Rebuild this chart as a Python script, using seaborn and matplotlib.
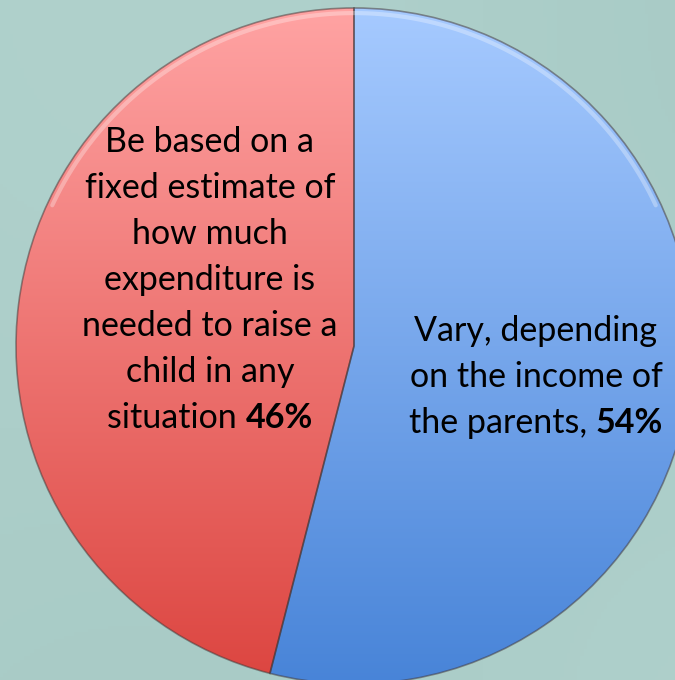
import numpy as np
import matplotlib
matplotlib.use("Agg")
import matplotlib.pyplot as plt
from matplotlib.colors import LinearSegmentedColormap
from matplotlib.offsetbox import TextArea, HPacker, VPacker, AnnotationBbox
import seaborn as sns

# Survey answers: how child support should be calculated
answers = [
    "Vary, depending\non the income of\nthe parents,",
    "Be based on a\nfixed estimate of\nhow much\nexpenditure is\nneeded to raise a\nchild in any\nsituation",
]
shares = [54, 46]
top_colors = ["#a6caff", "#ffa3a3"]
bottom_colors = ["#4884d8", "#dc4540"]

sns.set_theme(style="white")
plt.rcParams["font.family"] = ["Lato", "DejaVu Sans"]
FONT = ["Lato", "DejaVu Sans"]
FS = 24.5

W, H, DPI = 675, 680, 100
fig = plt.figure(figsize=(W / DPI, H / DPI), dpi=DPI)
fig.patch.set_facecolor("#aacdc8")

# soft backdrop
bg = fig.add_axes([0, 0, 1, 1])
bg.set_axis_off()
yy, xx = np.mgrid[0:1:200j, 0:1:200j]
shade = 0.5 + 0.25 * np.sin(3.0 * xx + 1.0) * np.cos(2.5 * yy)
bg_cmap = LinearSegmentedColormap.from_list("bg", ["#a5c8c3", "#b3d4cf"])
bg.imshow(shade, cmap=bg_cmap, aspect="auto", extent=[0, 1, 0, 1], vmin=0, vmax=1)

ax = fig.add_axes([0, 0, 1, 1])
ax.set_axis_off()
ax.patch.set_alpha(0)

wedges, _ = ax.pie(
    shares,
    startangle=90,
    counterclock=False,
    radius=1.0,
    colors=["none", "none"],
    wedgeprops=dict(edgecolor="none", linewidth=0),
)

R = 338.0
cx, cy = 354.0, 346.0  # pixel position of the pie centre

grad = np.linspace(0, 1, 256).reshape(-1, 1)
for w, c0, c1 in zip(wedges, top_colors, bottom_colors):
    cmap = LinearSegmentedColormap.from_list("g", [c0, c1])
    im = ax.imshow(grad, cmap=cmap, aspect="auto", extent=[-1, 1, -1, 1],
                   origin="upper", zorder=1, interpolation="bicubic")
    im.set_clip_path(w)
    # bevel outline
    w.set_zorder(2)
    w.set_edgecolor((0.25, 0.2, 0.2, 0.5))
    w.set_linewidth(1.2)

ax.set_xlim(-cx / R, (W - cx) / R)
ax.set_ylim(-(H - cy) / R, cy / R)
ax.set_aspect("equal")
ax.set_axis_off()

# top highlight rim
theta = np.linspace(np.deg2rad(25), np.deg2rad(155), 200)
ax.plot(0.985 * np.cos(theta), 0.985 * np.sin(theta), color="white",
        alpha=0.3, lw=3, zorder=3, solid_capstyle="round")


def label_block(lines, pct, xy):
    body = lines.split("\n")
    rows = [TextArea(t, textprops=dict(size=FS, color="black", family=FONT))
            for t in body[:-1]]
    last = HPacker(children=[
        TextArea(body[-1] + " ", textprops=dict(size=FS, color="black", family=FONT)),
        TextArea(f"{pct}%", textprops=dict(size=FS, color="black", weight="bold", family=FONT)),
    ], align="baseline", pad=0, sep=0)
    rows.append(last)
    box = VPacker(children=rows, align="center", pad=0, sep=10)
    ab = AnnotationBbox(box, xy, frameon=False, box_alignment=(0.5, 0.5),
                        xycoords="data", zorder=5)
    ax.add_artist(ab)


def px(x, y):
    return ((x - cx) / R, (cy - y) / R)


label_block(answers[0], shares[0], px(536, 377))
label_block(answers[1], shares[1], px(210, 280))

fig.savefig("out.png", dpi=DPI)
